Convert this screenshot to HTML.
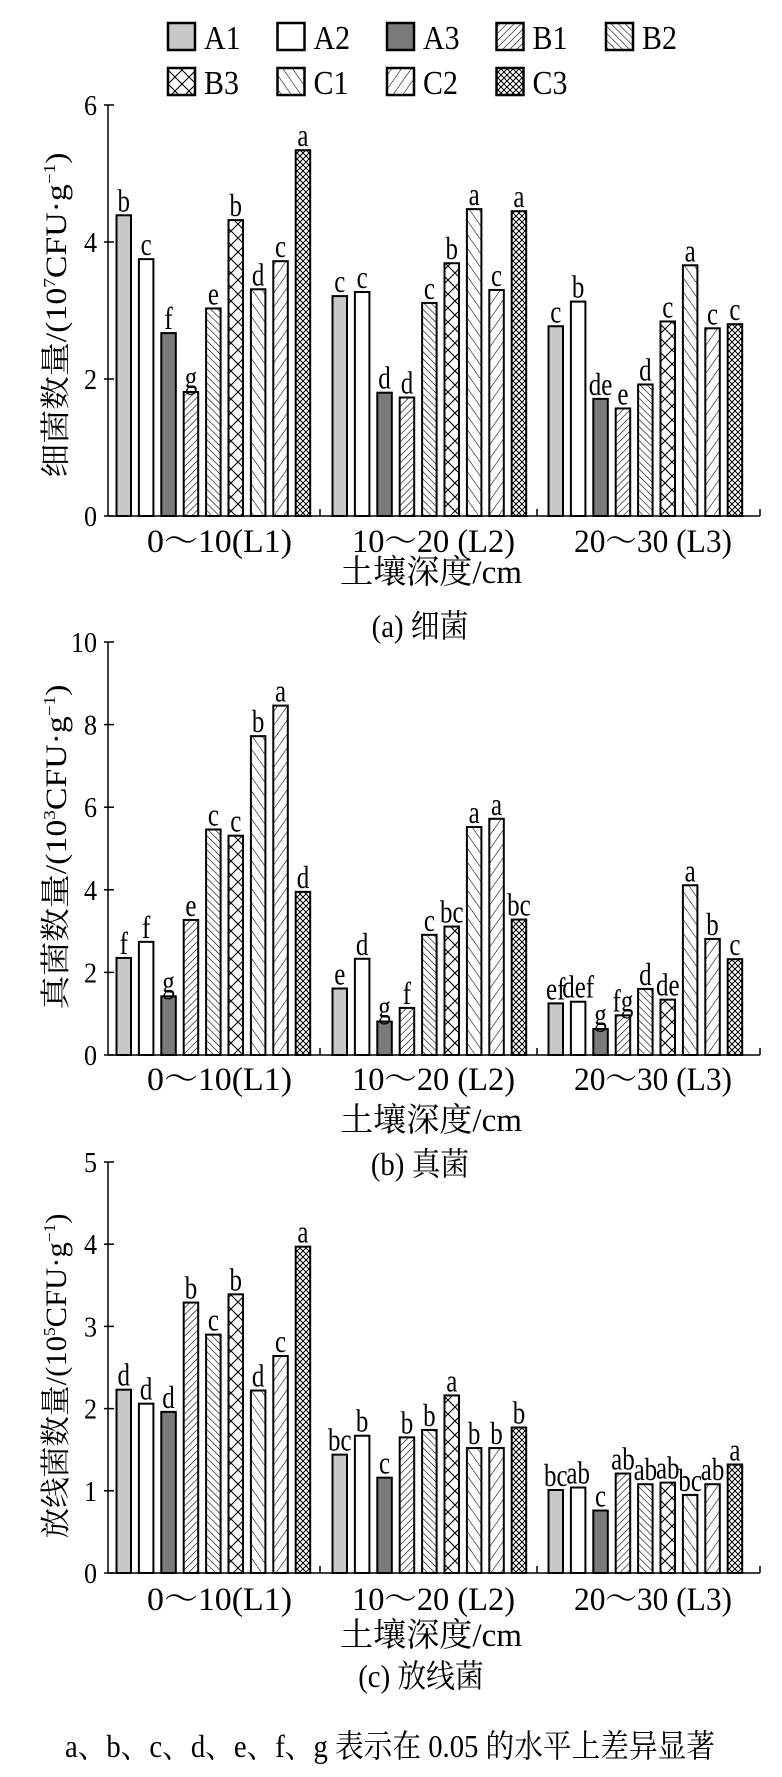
<!DOCTYPE html>
<html><head><meta charset="utf-8"><style>
html,body{margin:0;padding:0;background:#fff;}
svg{display:block;}
text{font-family:"Liberation Serif","Noto Serif CJK SC","Noto Sans CJK SC",serif;fill:#000;}
</style></head><body>
<svg id="chart" width="782" height="1777" viewBox="0 0 782 1777" xmlns="http://www.w3.org/2000/svg">
<defs>
<pattern id="p-B1" patternUnits="userSpaceOnUse" width="5" height="5" patternTransform="rotate(45)"><rect width="5" height="5" fill="#fff"/><line x1="0" y1="0" x2="0" y2="5" stroke="#000" stroke-width="1.2"/></pattern>
<pattern id="p-B2" patternUnits="userSpaceOnUse" width="5" height="5" patternTransform="rotate(-45)"><rect width="5" height="5" fill="#fff"/><line x1="0" y1="0" x2="0" y2="5" stroke="#000" stroke-width="1.2"/></pattern>
<pattern id="p-B3" patternUnits="userSpaceOnUse" width="14" height="14"><rect width="14" height="14" fill="#fff"/><path d="M0 0L14 14M14 0L0 14" stroke="#000" stroke-width="1.1"/></pattern>
<pattern id="p-C1" patternUnits="userSpaceOnUse" width="8" height="8" patternTransform="rotate(-35)"><rect width="8" height="8" fill="#fff"/><line x1="0" y1="0" x2="0" y2="8" stroke="#000" stroke-width="1.1"/></pattern>
<pattern id="p-C2" patternUnits="userSpaceOnUse" width="8" height="8" patternTransform="rotate(35)"><rect width="8" height="8" fill="#fff"/><line x1="0" y1="0" x2="0" y2="8" stroke="#000" stroke-width="1.1"/></pattern>
<pattern id="p-C3" patternUnits="userSpaceOnUse" width="6" height="6"><rect width="6" height="6" fill="#fff"/><path d="M0 0L6 6M6 0L0 6" stroke="#000" stroke-width="1"/></pattern>
</defs>
<g id="legend"></g>
<g id="panels"></g>
<text x="390" y="1757" font-size="32" text-anchor="middle" textLength="650" lengthAdjust="spacingAndGlyphs">a、b、c、d、e、f、g 表示在 0.05 的水平上差异显著</text>
</svg>
<script>
const series = ["A1","A2","A3","B1","B2","B3","C1","C2","C3"];
const categories = ["0～10(L1)","10～20 (L2)","20～30 (L3)"];
const bacteriaValues = [
 [4.39,3.75,2.67,1.81,3.03,4.32,3.31,3.72,5.34],
 [3.21,3.27,1.80,1.73,3.11,3.69,4.48,3.30,4.45],
 [2.77,3.13,1.71,1.57,1.92,2.84,3.66,2.74,2.80]];
const bacteriaLetters = [
 ["b","c","f","g","e","b","d","c","a"],
 ["c","c","d","d","c","b","a","c","a"],
 ["c","b","de","e","d","c","a","c","c"]];
const fungiValues = [
 [2.35,2.74,1.42,3.27,5.46,5.31,7.72,8.46,3.95],
 [1.61,2.33,0.81,1.14,2.91,3.11,5.52,5.72,3.28],
 [1.25,1.29,0.63,0.96,1.60,1.34,4.11,2.81,2.32]];
const fungiLetters = [
 ["f","f","g","e","c","c","b","a","d"],
 ["e","d","g","f","c","bc","a","a","bc"],
 ["ef","def","g","fg","d","de","a","b","c"]];
const actinoValues = [
 [2.23,2.06,1.96,3.29,2.90,3.39,2.22,2.64,3.97],
 [1.44,1.67,1.16,1.65,1.74,2.16,1.52,1.52,1.77],
 [1.01,1.04,0.76,1.21,1.08,1.10,0.95,1.08,1.32]];
const actinoLetters = [
 ["d","d","d","b","c","b","d","c","a"],
 ["bc","b","c","b","b","a","b","b","b"],
 ["bc","ab","c","ab","ab","ab","bc","ab","a"]];
const bacteriaTicks = [0,2,4,6];
const fungiTicks = [0,2,4,6,8,10];
const actinoTicks = [0,1,2,3,4,5];

const NS="http://www.w3.org/2000/svg";
const fills={A1:"#c8c8c8",A2:"#fff",A3:"#7a7a7a",B1:"url(#p-B1)",B2:"url(#p-B2)",B3:"url(#p-B3)",C1:"url(#p-C1)",C2:"url(#p-C2)",C3:"url(#p-C3)"};
function mk(tag,attrs,parent){const e=document.createElementNS(NS,tag);for(const k in attrs)e.setAttribute(k,attrs[k]);parent.appendChild(e);return e;}

const lg=document.getElementById('legend');
series.forEach((s,i)=>{
  const row=i<5?0:1, col=i<5?i:i-5;
  const x=168+col*109.5, y=row===0?23:68;
  const r=mk('rect',{x:x,y:y,width:27,height:27,fill:fills[s],stroke:'#000','stroke-width':2.5},lg);
  
  
  const t=mk('text',{x:0,y:0,'font-size':34,transform:'translate('+(x+36)+','+(y+26)+') scale(0.88,1)'},lg);
  t.textContent=s;
  
  
});

const panels=[
 {key:'bacteria',vals:bacteriaValues,lets:bacteriaLetters,ticks:bacteriaTicks,max:6,top:105,base:516,ylab:['细菌数量/(10','7','CFU·g','−1',')'],ylc:315,catY:552,titleY:583,cap:'(a) 细菌',capY:637,capX:420},
 {key:'fungi',vals:fungiValues,lets:fungiLetters,ticks:fungiTicks,max:10,top:642,base:1055,ylab:['真菌数量/(10','3','CFU·g','−1',')'],ylc:847,catY:1090,titleY:1131,cap:'(b) 真菌',capY:1175,capX:420},
 {key:'actinomycetes',vals:actinoValues,lets:actinoLetters,ticks:actinoTicks,max:5,top:1162,base:1573,ylab:['放线菌数量/(10','5','CFU·g','−1',')'],ylc:1376,catY:1610,titleY:1646,cap:'(c) 放线菌',capY:1687,capX:421}
];
const catX=[[147,145],[352,163],[574,158]];
const pg=document.getElementById('panels');
panels.forEach(p=>{
  const g=mk('g',{},pg);
  
  
  const ys=v=>p.base-(v/p.max)*(p.base-p.top);
  p.vals.forEach((grp,gi)=>{
    grp.forEach((v,si)=>{
      const x=116.5+gi*216+si*22.4;
      const b=mk('rect',{x:x,y:ys(v),width:14.5,height:p.base-ys(v),fill:fills[series[si]],stroke:'#000','stroke-width':2},g);
      
      
      const t=mk('text',{x:0,y:0,'font-size':32,'text-anchor':'middle',transform:'translate('+(x+7.25)+','+(ys(v)-4)+') scale(0.78,1)'},g);
      t.textContent=p.lets[gi][si];
      
      
    });
  });
  const ya=mk('line',{x1:108,y1:p.top,x2:108,y2:p.base,stroke:'#000','stroke-width':1.5},g);
  
  
  const xa=mk('line',{x1:108,y1:p.base,x2:760,y2:p.base,stroke:'#000','stroke-width':1.5},g);
  
  
  [320,537,760].forEach(sx=>{mk('line',{x1:sx,y1:p.base,x2:sx,y2:p.base-7,stroke:'#000','stroke-width':1.5},g);});
  p.ticks.forEach(tv=>{
    mk('line',{x1:104,y1:ys(tv),x2:114,y2:ys(tv),stroke:'#000','stroke-width':1.5},g);
    const t=mk('text',{x:0,y:0,'font-size':29,'text-anchor':'end',transform:'translate(97,'+(ys(tv)+10)+') scale(0.9,1)'},g);
    t.textContent=tv;
    
    
  });
  categories.forEach((c,ci)=>{
    const t=mk('text',{x:catX[ci][0],y:p.catY,'font-size':33,textLength:catX[ci][1],lengthAdjust:'spacingAndGlyphs'},g);
    t.textContent=c;
    
    
  });
  const xt=mk('text',{x:340,y:p.titleY,'font-size':33,textLength:182,lengthAdjust:'spacingAndGlyphs'},g);
  xt.textContent='土壤深度/cm';
  
  
  const cp=mk('text',{x:0,y:0,'font-size':32,'text-anchor':'middle',transform:'translate('+p.capX+','+p.capY+') scale(0.9,1)'},g);
  cp.textContent=p.cap;
  
  
  const yl=mk('text',{x:0,y:0,'font-size':30,'text-anchor':'middle',transform:'translate(66,'+p.ylc+') rotate(-90)',textLength:325,lengthAdjust:'spacingAndGlyphs'},g);
  
  
  p.ylab.forEach((s,i)=>{const ts=mk('tspan',{},yl);if(i===1||i===3){ts.setAttribute('font-size','17');ts.setAttribute('dy','-11');}else if(i===2||i===4){ts.setAttribute('dy','11');}ts.textContent=s;});
});
</script>
</body></html>
